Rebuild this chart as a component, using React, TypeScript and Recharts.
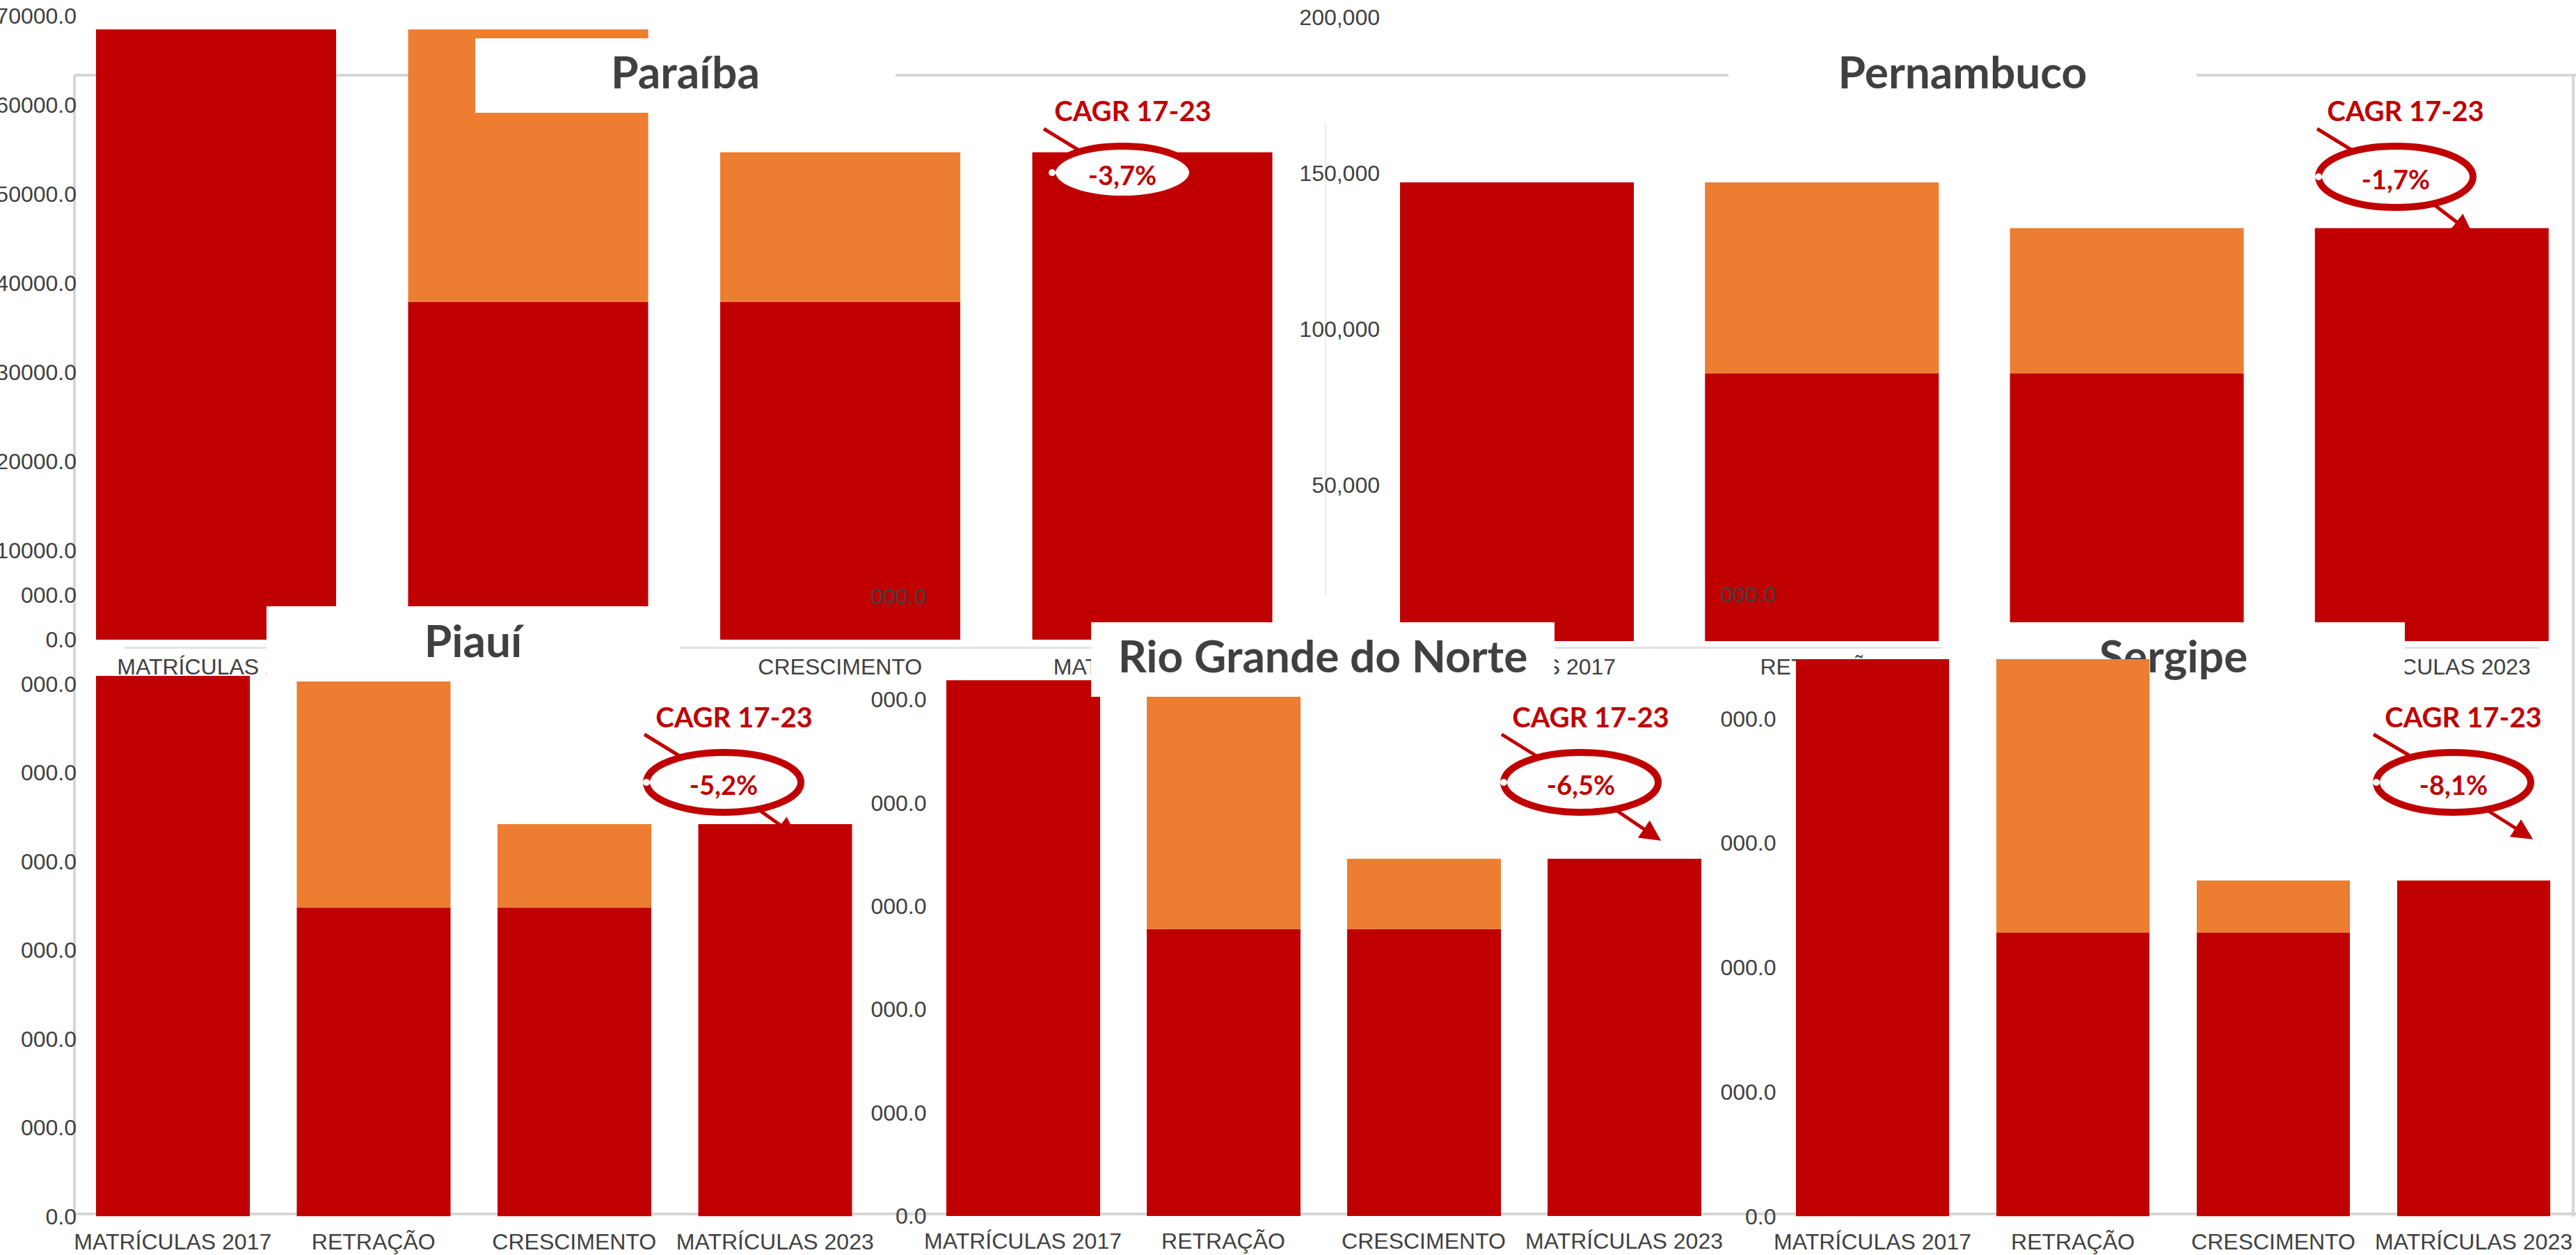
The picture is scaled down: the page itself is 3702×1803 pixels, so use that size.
import React from 'react';
import { BarChart, Bar, XAxis, YAxis } from 'recharts';

const categories = ['MATRÍCULAS 2017', 'RETRAÇÃO', 'CRESCIMENTO', 'MATRÍCULAS 2023'];

// red part of each column, then the orange step on top of it
const paraibaBase = [68500, 37900, 37900, 54700];
const paraibaStep = [0, 30600, 16800, 0];
const pernambucoBase = [147100, 85900, 85900, 132400];
const pernambucoStep = [0, 61200, 46500, 0];
const piauiBase = [60900, 34800, 34800, 44200];
const piauiStep = [0, 26100, 9400, 0];
const rgnBase = [51900, 27800, 27800, 34600];
const rgnStep = [0, 24100, 6800, 0];
const sergipeBase = [22400, 11400, 11400, 13500];
const sergipeStep = [0, 11000, 2100, 0];

const paraibaTicks = [0, 10000, 20000, 30000, 40000, 50000, 60000, 70000];
const pernambucoTicks = [0, 50000, 100000, 150000, 200000];
const piauiTicks = [0, 10000, 20000, 30000, 40000, 50000, 60000, 70000];
const rgnTicks = [0, 10000, 20000, 30000, 40000, 50000, 60000];
const sergipeTicks = [0, 5000, 10000, 15000, 20000, 25000];

const titles = ['Paraíba', 'Pernambuco', 'Piauí', 'Rio Grande do Norte', 'Sergipe'];
const cagrTitle = 'CAGR 17-23';
const cagrValues = ['-3,7%', '-1,7%', '-5,2%', '-6,5%', '-8,1%'];

const RED = '#C00000';
const ORANGE = '#ED7D31';
const INK = '#404040';
const LINE = '#D6D6D6';
const TICK_FONT = '"Liberation Sans", Arial, sans-serif';
const TITLE_FONT = 'Lato, "Noto Sans", sans-serif';

const rows = (base: number[], step: number[]) =>
  categories.map((name, i) => ({ name, base: base[i], step: step[i] }));

const fullFmt = (v: number) => v.toFixed(1);
const cutFmt = (v: number) => v.toFixed(1).slice(-5);
const commaFmt = (v: number) => v.toLocaleString('en-US');

type PanelProps = {
  data: { name: string; base: number; step: number }[];
  ticks: number[];
  fmt: (v: number) => string;
  plotLeft: number;
  plotRight: number;
  plotTop: number;
  plotBottom: number;
  yw: number;
  barSize: number;
  labelRight: number;
  xGap: number;
  z: number;
};

const Panel = (p: PanelProps) => {
  const mt = 30;
  const xh = 70;
  const left = p.plotLeft - p.yw;
  const top = p.plotTop - mt;
  const width = p.plotRight - left;
  const height = p.plotBottom - p.plotTop + mt + xh;
  const yMax = p.ticks[p.ticks.length - 1];

  return (
    <div style={{ position: 'absolute', left, top, width, height, zIndex: p.z }}>
      <BarChart width={width} height={height} data={p.data} margin={{ top: mt, right: 0, bottom: 0, left: 0 }}>
        <XAxis
          dataKey="name"
          height={xh}
          axisLine={false}
          tickLine={false}
          tickSize={0}
          tickMargin={0}
          interval={0}
          tick={(t: any) => (
            <text
              x={t.x}
              y={t.y + p.xGap}
              textAnchor="middle"
              dominantBaseline="central"
              fill={INK}
              style={{ fontFamily: TICK_FONT, fontSize: 32 }}
            >
              {t.payload.value}
            </text>
          )}
        />
        <YAxis
          type="number"
          domain={[0, yMax]}
          ticks={p.ticks}
          width={p.yw}
          axisLine={false}
          tickLine={false}
          tickSize={0}
          tickMargin={0}
          interval={0}
          allowDataOverflow
          tick={(t: any) => (
            <text
              x={p.labelRight - left}
              y={t.y}
              textAnchor="end"
              dominantBaseline="central"
              fill={INK}
              style={{ fontFamily: TICK_FONT, fontSize: 32 }}
            >
              {p.fmt(t.payload.value)}
            </text>
          )}
        />
        <Bar dataKey="base" stackId="s" fill={RED} barSize={p.barSize} isAnimationActive={false} />
        <Bar dataKey="step" stackId="s" fill={ORANGE} barSize={p.barSize} isAnimationActive={false} />
      </BarChart>
    </div>
  );
};

const TitleBox = ({ text, left, top, width, height, z }: any) => (
  <div
    style={{
      position: 'absolute',
      left,
      top,
      width,
      height,
      zIndex: z,
      background: '#fff',
      display: 'flex',
      alignItems: 'center',
      justifyContent: 'center',
      boxSizing: 'border-box',
      paddingBottom: 12,
      fontFamily: TITLE_FONT,
      fontWeight: 700,
      fontSize: 64,
      color: INK,
      whiteSpace: 'nowrap',
    }}
  >
    {text}
  </div>
);

const Rule = ({ left, top, width, height, color, z = 0 }: any) => (
  <div style={{ position: 'absolute', left, top, width, height, background: color, zIndex: z }} />
);

// callout placement per panel: title text, leader, ellipse, arrow
const callouts = [
  { tx: 1628, ty: 159, l: [1500, 185, 1554, 218], cx: 1613, cy: 248, rx: 101, ry: 38, a: [1690, 280, 1730, 312] },
  { tx: 3457, ty: 159, l: [3330, 185, 3382, 217], cx: 3443, cy: 254, rx: 111, ry: 44, a: [3498, 294, 3550, 334] },
  { tx: 1055, ty: 1030, l: [926, 1055, 978, 1087], cx: 1040, cy: 1124, rx: 111, ry: 43, a: [1090, 1163, 1142, 1200] },
  { tx: 2286, ty: 1030, l: [2158, 1055, 2208, 1086], cx: 2272, cy: 1124, rx: 111, ry: 43, a: [2324, 1165, 2383, 1205] },
  { tx: 3540, ty: 1030, l: [3411, 1055, 3462, 1085], cx: 3526, cy: 1124, rx: 111, ry: 43, a: [3576, 1165, 3636, 1203] },
];

const Callouts = () => (
  <svg
    width={3702}
    height={1803}
    style={{ position: 'absolute', left: 0, top: 0, zIndex: 5, pointerEvents: 'none' }}
  >
    <defs>
      <marker id="tip" markerWidth="6" markerHeight="6" refX="5" refY="3" orient="auto" markerUnits="strokeWidth">
        <path d="M0,0 L6,3 L0,6 z" fill={RED} />
      </marker>
    </defs>
    {callouts.map((c, i) => (
      <g key={i}>
        <text
          x={c.tx}
          y={c.ty}
          textAnchor="middle"
          dominantBaseline="central"
          fill={RED}
          style={{ fontFamily: TITLE_FONT, fontWeight: 700, fontSize: 40 }}
        >
          {cagrTitle}
        </text>
        <line x1={c.l[0]} y1={c.l[1]} x2={c.l[2]} y2={c.l[3]} stroke={RED} strokeWidth={5} />
        <line
          x1={c.a[0]}
          y1={c.a[1]}
          x2={c.a[2]}
          y2={c.a[3]}
          stroke={RED}
          strokeWidth={5}
          markerEnd="url(#tip)"
        />
        <ellipse cx={c.cx} cy={c.cy} rx={c.rx} ry={c.ry} fill="#fff" stroke={RED} strokeWidth={10} />
        <circle cx={c.cx - c.rx} cy={c.cy} r={5} fill="#fff" />
        <text
          x={c.cx}
          y={c.cy + 3}
          textAnchor="middle"
          dominantBaseline="central"
          fill={RED}
          style={{ fontFamily: TITLE_FONT, fontWeight: 700, fontSize: 38 }}
        >
          {cagrValues[i]}
        </text>
      </g>
    ))}
  </svg>
);

const App = () => {
  return (
    <div
      style={{
        position: 'fixed',
        left: 0,
        top: 0,
        width: 3702,
        height: 1803,
        overflow: 'hidden',
        background: '#fff',
      }}
    >
      {/* frame and axis lines */}
      <Rule left={107} top={106} width={3595} height={4} color={LINE} />
      <Rule left={105} top={108} width={4} height={1640} color={LINE} />
      <Rule left={3696} top={108} width={4} height={1640} color={LINE} />
      <Rule left={1904} top={176} width={2} height={680} color="#ECECEC" />
      <Rule left={179} top={929} width={3471} height={3} color="#E3E3E3" />
      <Rule left={107} top={1742} width={3595} height={4} color={LINE} />

      <Panel
        data={rows(paraibaBase, paraibaStep)}
        ticks={paraibaTicks}
        fmt={fullFmt}
        plotLeft={86}
        plotRight={1880}
        plotTop={23}
        plotBottom={919}
        yw={86}
        barSize={345}
        labelRight={110}
        xGap={39}
        z={1}
      />
      <Panel
        data={rows(pernambucoBase, pernambucoStep)}
        ticks={pernambucoTicks}
        fmt={commaFmt}
        plotLeft={1961}
        plotRight={3714}
        plotTop={25}
        plotBottom={921}
        yw={130}
        barSize={336}
        labelRight={1983}
        xGap={37}
        z={1}
      />

      <TitleBox text={titles[4]} left={2791} top={894} width={665} height={107} z={2} />

      <Panel
        data={rows(piauiBase, piauiStep)}
        ticks={piauiTicks}
        fmt={cutFmt}
        plotLeft={104}
        plotRight={1258}
        plotTop={854.5}
        plotBottom={1747}
        yw={104}
        barSize={221}
        labelRight={110}
        xGap={36}
        z={3}
      />
      <Panel
        data={rows(rgnBase, rgnStep)}
        ticks={rgnTicks}
        fmt={cutFmt}
        plotLeft={1325.5}
        plotRight={2477.5}
        plotTop={857}
        plotBottom={1747}
        yw={100}
        barSize={221}
        labelRight={1331}
        xGap={36}
        z={3}
      />
      <Panel
        data={rows(sergipeBase, sergipeStep)}
        ticks={sergipeTicks}
        fmt={cutFmt}
        plotLeft={2546.5}
        plotRight={3698.5}
        plotTop={853.5}
        plotBottom={1747}
        yw={100}
        barSize={220}
        labelRight={2552}
        xGap={36}
        z={3}
      />

      <TitleBox text={titles[0]} left={683} top={55} width={604} height={107} z={4} />
      <TitleBox text={titles[1]} left={2484} top={55} width={673} height={107} z={4} />
      <TitleBox text={titles[2]} left={383} top={871} width={594} height={108} z={4} />
      <TitleBox text={titles[3]} left={1568} top={894} width={666} height={107} z={4} />

      <Callouts />
    </div>
  );
};

export default App;
